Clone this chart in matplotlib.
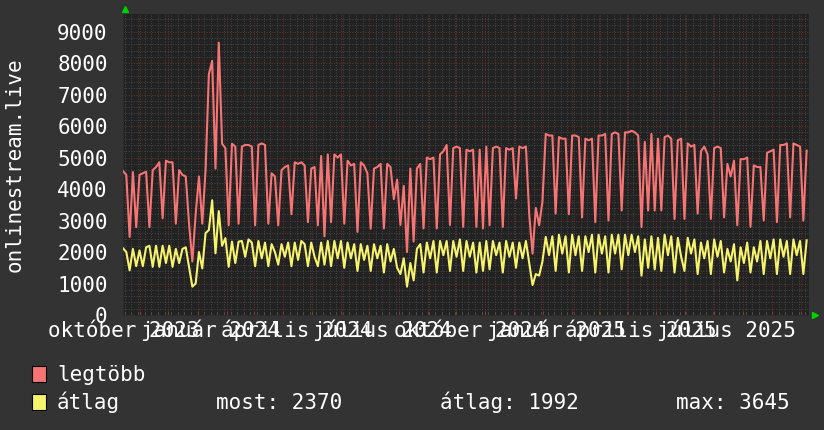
import matplotlib.pyplot as plt
import matplotlib.dates as mdates
import matplotlib.transforms as mtransforms
import numpy as np
import pandas as pd
from matplotlib.patches import Rectangle
from matplotlib.ticker import MultipleLocator


# DATA (one sample every 3.5 days from the start date)
START_DATE = "2023-10-14"
END_DATE = "2025-10-10"
STEP_DAYS = 3.5

legtobb = [
    4570, 4450, 2480, 4540, 2790, 4450, 4500, 4550, 2790, 4600,
    4700, 4850, 3070, 4900, 4850, 4850, 2900, 4600, 4450, 4400,
    2900, 1700, 3200, 4400, 2900, 4600, 7650, 8070, 4650, 8650,
    5440, 5300, 2850, 5440, 5350, 2900, 5350, 5400, 5400, 5350,
    2850, 5400, 5450, 5400, 2900, 4500, 4400, 2850, 4600, 4700,
    4750, 3200, 4850, 4800, 4850, 4750, 2950, 4650, 4700, 2850,
    5050, 2500, 5100, 2950, 5100, 5000, 5100, 2900, 4900, 4750,
    4800, 2640, 4850, 4750, 4500, 2740, 4650, 4700, 4800, 2750,
    4800, 4700, 3680, 4300, 2860, 4100, 2000, 4650, 2330, 4650,
    4800, 2750, 5000, 4950, 5000, 2750, 5100, 5200, 5400, 2860,
    5300, 5350, 5300, 2800, 5250, 5200, 5250, 2800, 5250, 2750,
    5350, 2850, 5300, 5350, 5300, 2800, 5300, 5250, 5300, 3700,
    5350, 5300, 5350, 3200, 1950, 3400, 2850, 3600, 5750, 5700,
    5700, 3220, 5650, 5600, 5600, 3200, 5700, 5700, 5650, 3100,
    5600, 5550, 5600, 2950, 5700, 5700, 5750, 3000, 5750, 5800,
    5750, 3320, 5800, 5800, 5850, 5800, 5700, 2790, 5500, 3320,
    5750, 3320, 5600, 3320, 5650, 5700, 5600, 3050, 5550, 5600,
    3050, 5450, 5350, 5400, 3220, 5200, 5350, 5100, 3050, 5300,
    5350, 5300, 3100, 4800, 4400, 4900, 2850, 4950, 4950, 5000,
    2800, 4750, 4700, 4700, 3000, 5150, 5200, 5250, 2950, 5400,
    5400, 5450, 3100, 5450, 5400, 5350, 3000, 5220,
]

atlag = [
    2120, 2000, 1420, 2100, 1550, 2050, 1550, 2150, 2200, 1530,
    2200, 1530, 2200, 1650, 2200, 1530, 2100, 1650, 2100, 2150,
    1530, 900, 1000, 2000, 1480, 2600, 2700, 3645, 1960, 3300,
    2200, 2440, 1530, 2330, 1650, 2330, 2350, 1850, 2400, 2300,
    1550, 2350, 1800, 2300, 1550, 2250, 2000, 1600, 2250, 1850,
    2300, 1550, 2300, 1750, 2350, 2250, 1550, 2300, 1850, 1550,
    2300, 1600, 2350, 1550, 2350, 1800, 2350, 1500, 2300, 1800,
    2250, 1400, 2250, 1750, 2200, 1400, 2250, 1800, 2200, 1350,
    2250, 1700, 2100, 1500, 1300, 1800, 900, 1650, 1100, 2100,
    2250, 1350, 2300, 1800, 2350, 1350, 2350, 1900, 2350, 1400,
    2350, 1850, 2400, 1400, 2350, 1850, 2300, 1350, 2300, 1400,
    2350, 1450, 2350, 1900, 2300, 1350, 2350, 1850, 2300, 1500,
    2300, 1800, 2350, 1650, 950, 1300, 1250, 1700, 2480, 1900,
    2500, 1400, 2550, 1950, 2500, 1350, 2550, 1900, 2500, 1400,
    2500, 2000, 2550, 1350, 2550, 1950, 2500, 1350, 2550, 1950,
    2550, 1450, 2550, 1900, 2550, 2000, 2500, 1250, 2400, 1500,
    2500, 1450, 2450, 1400, 2550, 1900, 2500, 1350, 2450, 1850,
    1400, 2450, 1950, 2400, 1300, 2300, 1800, 2350, 1300, 2400,
    1850, 2350, 1350, 2100, 1700, 2250, 1100, 2150, 1650, 2300,
    1350, 2150, 1700, 2350, 1300, 2350, 1800, 2400, 1300, 2400,
    1850, 2350, 1300, 2400, 1900, 2350, 1300, 2370,
]

month_labels = ["október 2023", "január 2024", "április 2024", "július 2024",
                "október 2024", "január 2025", "április 2025", "július 2025"]
month_label_dates = ["2023-10-15", "2024-01-15", "2024-04-15", "2024-07-15",
                     "2024-10-15", "2025-01-15", "2025-04-15", "2025-07-15"]

legend_names = ["legtöbb", "átlag"]
stat_most = 2370
stat_atlag = 1992
stat_max = 3645

# STYLE
W, H = 824, 430
BG = "#333333"
CANVAS = "#222222"
RED = "#f77474"
YELLOW = "#f6f46c"
FONT = "DejaVu Sans Mono"
FS = 15


def fx(px):
    """pixel x -> figure fraction"""
    return px / W


def fy(py):
    """pixel y (from top) -> figure fraction"""
    return 1 - py / H


fig = plt.figure(figsize=(W / 100, H / 100), dpi=100, facecolor=BG)
ax = fig.add_axes([fx(123), fy(315), fx(809) - fx(123), fy(14) - fy(315)])
ax.set_facecolor(CANVAS)

dates = pd.Timestamp(START_DATE) + pd.to_timedelta(
    np.arange(len(legtobb)) * STEP_DAYS, unit="D")

ax.plot(dates, legtobb, color=RED, lw=1.5, zorder=3)
ax.plot(dates, atlag, color=YELLOW, lw=1.5, zorder=4)

ax.set_xlim(pd.Timestamp(START_DATE), pd.Timestamp(END_DATE))
ax.set_ylim(0, 9560)

# Grid: weeks / 200 minor, months / 1000 major
ax.xaxis.set_major_locator(mdates.MonthLocator())
ax.xaxis.set_minor_locator(mdates.WeekdayLocator(byweekday=mdates.MO))
ax.yaxis.set_major_locator(MultipleLocator(1000))
ax.yaxis.set_minor_locator(MultipleLocator(200))
ax.grid(which="minor", color="#454545", lw=0.72, ls=(0, (1, 1.6)), zorder=1)
ax.grid(which="major", color="#6a2f2f", lw=0.72, ls=(0, (1, 1.6)), zorder=2)
ax.set_axisbelow(True)
ax.tick_params(axis="x", which="major", direction="in", length=3,
               color="#8a3636", labelbottom=False)
ax.tick_params(axis="x", which="minor", direction="in", length=2,
               color="#555555")
ax.tick_params(axis="y", which="both", length=0, pad=11,
               labelcolor="white", labelsize=FS)
for lab in ax.get_yticklabels():
    lab.set_fontfamily(FONT)

for sp in ["top", "right"]:
    ax.spines[sp].set_visible(False)
for sp in ["left", "bottom"]:
    ax.spines[sp].set_color("#2c2c2c")

# x labels (centred mid-month, shared baseline)
date_fig = mtransforms.blended_transform_factory(ax.transData, fig.transFigure)
for lab, d in zip(month_labels, month_label_dates):
    ax.text(pd.Timestamp(d), fy(337), lab, transform=date_fig,
            ha="center", va="baseline", color="white", fontsize=FS,
            family=FONT, clip_on=False)

# green axis arrows
ax.plot([0.003], [1.015], marker="^", color="#00d000", markersize=4.5,
        transform=ax.transAxes, clip_on=False)
ax.plot([1.009], [0.0], marker=">", color="#00d000", markersize=4.5,
        transform=ax.transAxes, clip_on=False)

# vertical label
fig.text(fx(15), fy(165), "onlinestream.live", rotation=90, ha="center",
         va="center", color="white", fontsize=FS, family=FONT)

# legend
for row, (name, col) in enumerate(zip(legend_names, [RED, YELLOW])):
    base = 381 + row * 28
    fig.add_artist(Rectangle((fx(32), fy(base + 1)), fx(14), fy(0) - fy(16),
                             transform=fig.transFigure, facecolor=col,
                             edgecolor="black", lw=0.8))
    fig.text(fx(57), fy(base), name, ha="left", va="baseline",
             color="white", fontsize=FS, family=FONT)

fig.text(fx(216), fy(409), f"most: {stat_most}", ha="left", va="baseline",
         color="white", fontsize=FS, family=FONT)
fig.text(fx(440), fy(409), f"átlag: {stat_atlag}", ha="left", va="baseline",
         color="white", fontsize=FS, family=FONT)
fig.text(fx(676), fy(409), f"max: {stat_max}", ha="left", va="baseline",
         color="white", fontsize=FS, family=FONT)

fig.savefig("out.png", dpi=100, facecolor=BG)
